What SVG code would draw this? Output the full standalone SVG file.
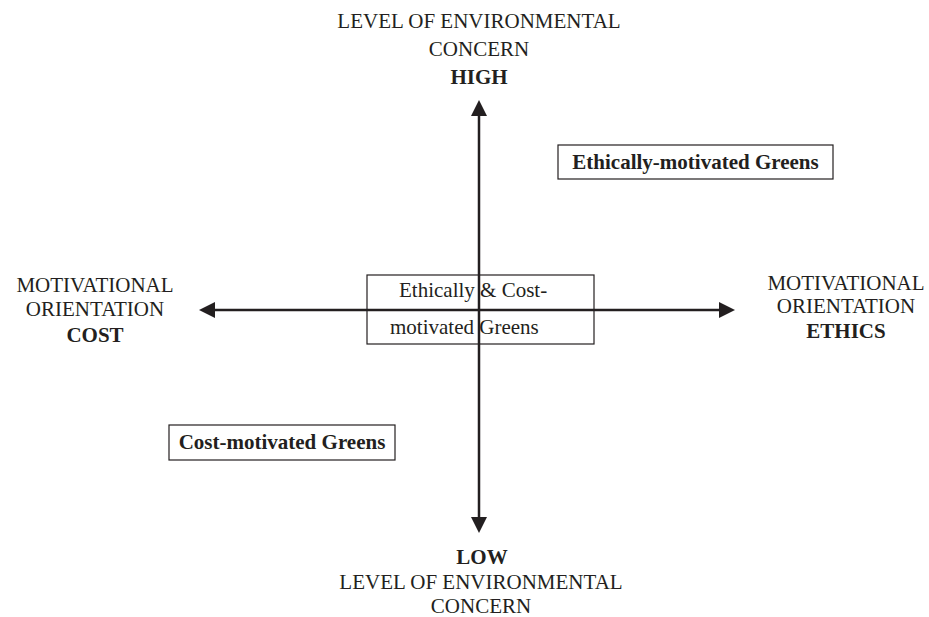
<svg xmlns="http://www.w3.org/2000/svg" width="929" height="617" viewBox="0 0 929 617">
<style>
text{font-family:"Liberation Serif","Times New Roman",serif;font-size:21px;fill:#231f20}
.b{font-weight:bold}
.c{text-anchor:middle}
.box{fill:#fff;stroke:#231f20;stroke-width:1.2}
.axis{stroke:#231f20;stroke-width:2.5;fill:none}
</style>
<defs>
<marker id="ah" markerUnits="userSpaceOnUse" markerWidth="18" markerHeight="18" refX="12" refY="8" orient="auto-start-reverse" viewBox="0 0 18 18">
<path d="M0,0 L16,8 L0,16 z" fill="#231f20"/>
</marker>
</defs>
<rect width="929" height="617" fill="#fff"/>
<g id="box-center">
<rect class="box" x="367" y="275" width="227" height="69"/>
<text x="399" y="297">Ethically &amp; Cost-</text>
<text x="390" y="334">motivated Greens</text>
</g>
<g id="connectors">
<line class="axis" x1="479" y1="104" x2="479" y2="529" marker-start="url(#ah)" marker-end="url(#ah)"/>
<line class="axis" x1="203" y1="310" x2="731" y2="310" marker-start="url(#ah)" marker-end="url(#ah)"/>
</g>
<g id="label-top">
<text class="c" x="479" y="28">LEVEL OF ENVIRONMENTAL</text>
<text class="c" x="479" y="56">CONCERN</text>
<text class="c b" x="479" y="84">HIGH</text>
</g>
<g id="label-bottom">
<text class="c b" x="482" y="564">LOW</text>
<text class="c" x="481" y="589">LEVEL OF ENVIRONMENTAL</text>
<text class="c" x="481" y="613">CONCERN</text>
</g>
<g id="label-left">
<text class="c" x="95" y="292">MOTIVATIONAL</text>
<text class="c" x="95" y="316">ORIENTATION</text>
<text class="c b" x="95" y="342">COST</text>
</g>
<g id="label-right">
<text class="c" x="846" y="290">MOTIVATIONAL</text>
<text class="c" x="846" y="313">ORIENTATION</text>
<text class="c b" x="846" y="338">ETHICS</text>
</g>
<g id="box-ethics">
<rect class="box" x="558" y="145" width="275" height="34"/>
<text class="c b" x="695.5" y="169">Ethically-motivated Greens</text>
</g>
<g id="box-cost">
<rect class="box" x="169" y="425" width="226" height="35"/>
<text class="c b" x="282" y="449">Cost-motivated Greens</text>
</g>
</svg>
